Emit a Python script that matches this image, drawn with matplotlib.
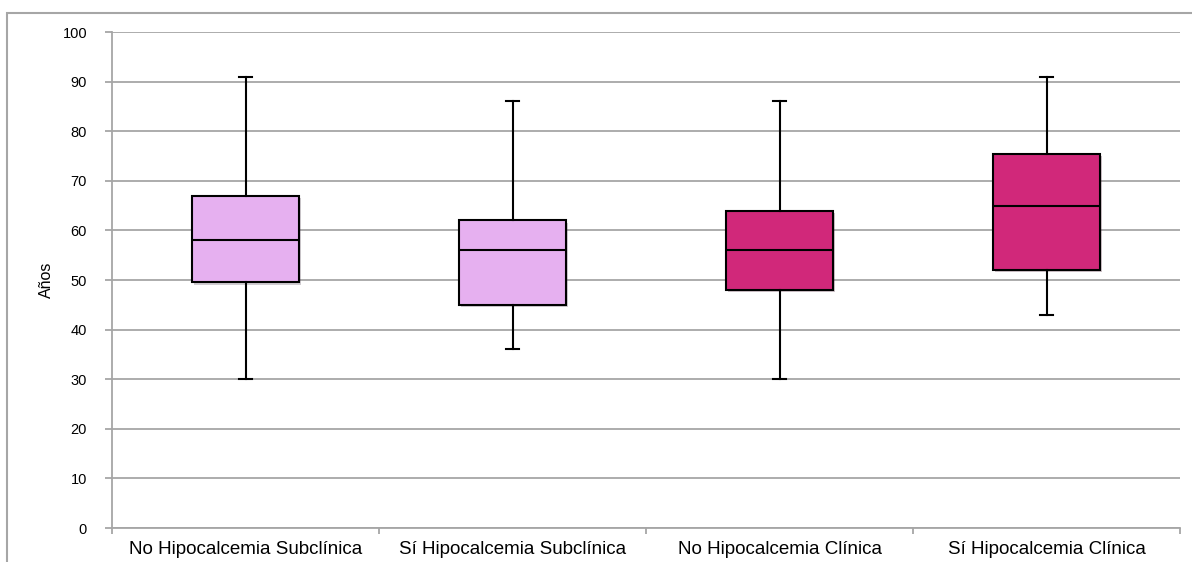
import matplotlib.pyplot as plt
import matplotlib.patheffects as pe
from matplotlib.patches import Rectangle

plt.rcParams['font.family'] = ['Liberation Sans', 'DejaVu Sans']

groups = ['No Hipocalcemia Subclínica', 'Sí Hipocalcemia Subclínica',
          'No Hipocalcemia Clínica', 'Sí Hipocalcemia Clínica']
whis_lo = [30, 36, 30, 43]
q1 = [49.5, 45, 48, 52]
med = [58, 56, 56, 65]
q3 = [67, 62, 64, 75.5]
whis_hi = [91, 86, 86, 91]
colors = ['#E6B0F0', '#E6B0F0', '#D1287A', '#D1287A']

fig = plt.figure(figsize=(11.92, 5.62), dpi=100)
fig.patches.append(Rectangle((7 / 1192, -0.1), 1.2, 1.1 - 13 / 562,
                             transform=fig.transFigure, fill=False,
                             edgecolor='#A6A6A6', linewidth=1.5))
ax = fig.add_axes([112 / 1192, 34 / 562, 1068 / 1192, 496 / 562])

stats = []
for i in range(len(groups)):
    stats.append({'whislo': whis_lo[i], 'q1': q1[i], 'med': med[i],
                  'q3': q3[i], 'whishi': whis_hi[i], 'fliers': []})

pos = list(range(len(groups)))
bp = ax.bxp(stats, positions=pos, widths=0.4, patch_artist=True,
            showfliers=False, capwidths=0.05,
            boxprops=dict(edgecolor='black', linewidth=1.5),
            medianprops=dict(color='black', linewidth=1.5),
            whiskerprops=dict(color='black', linewidth=1.5),
            capprops=dict(color='black', linewidth=1.5))
for patch, c in zip(bp['boxes'], colors):
    patch.set_facecolor(c)
    patch.set_path_effects([pe.SimplePatchShadow(offset=(1.5, -1.5), alpha=0.25),
                            pe.Normal()])

ax.set_xlim(-0.5, 3.5)
ax.set_ylim(0, 100)
ax.set_yticks(range(0, 101, 10))
ax.yaxis.grid(True, color='#A6A6A6', linewidth=1.3)
ax.set_axisbelow(True)

ax.set_xticks(pos)
ax.set_xticklabels(groups, fontsize=13.5)
ax.set_xticks([-0.5, 0.5, 1.5, 2.5, 3.5], minor=True)
ax.tick_params(axis='x', which='major', length=0, pad=9)
ax.tick_params(axis='x', which='minor', length=4, color='#A6A6A6', width=1.3)
ax.tick_params(axis='y', length=5, color='#A6A6A6', width=1.3, labelsize=10.5, pad=13)

for s in ['top', 'right']:
    ax.spines[s].set_visible(False)
for s in ['left', 'bottom']:
    ax.spines[s].set_color('#A6A6A6')
    ax.spines[s].set_linewidth(1.3)

ax.set_ylabel('Años', fontsize=11.5, labelpad=6)

fig.savefig('out.png', dpi=100)
